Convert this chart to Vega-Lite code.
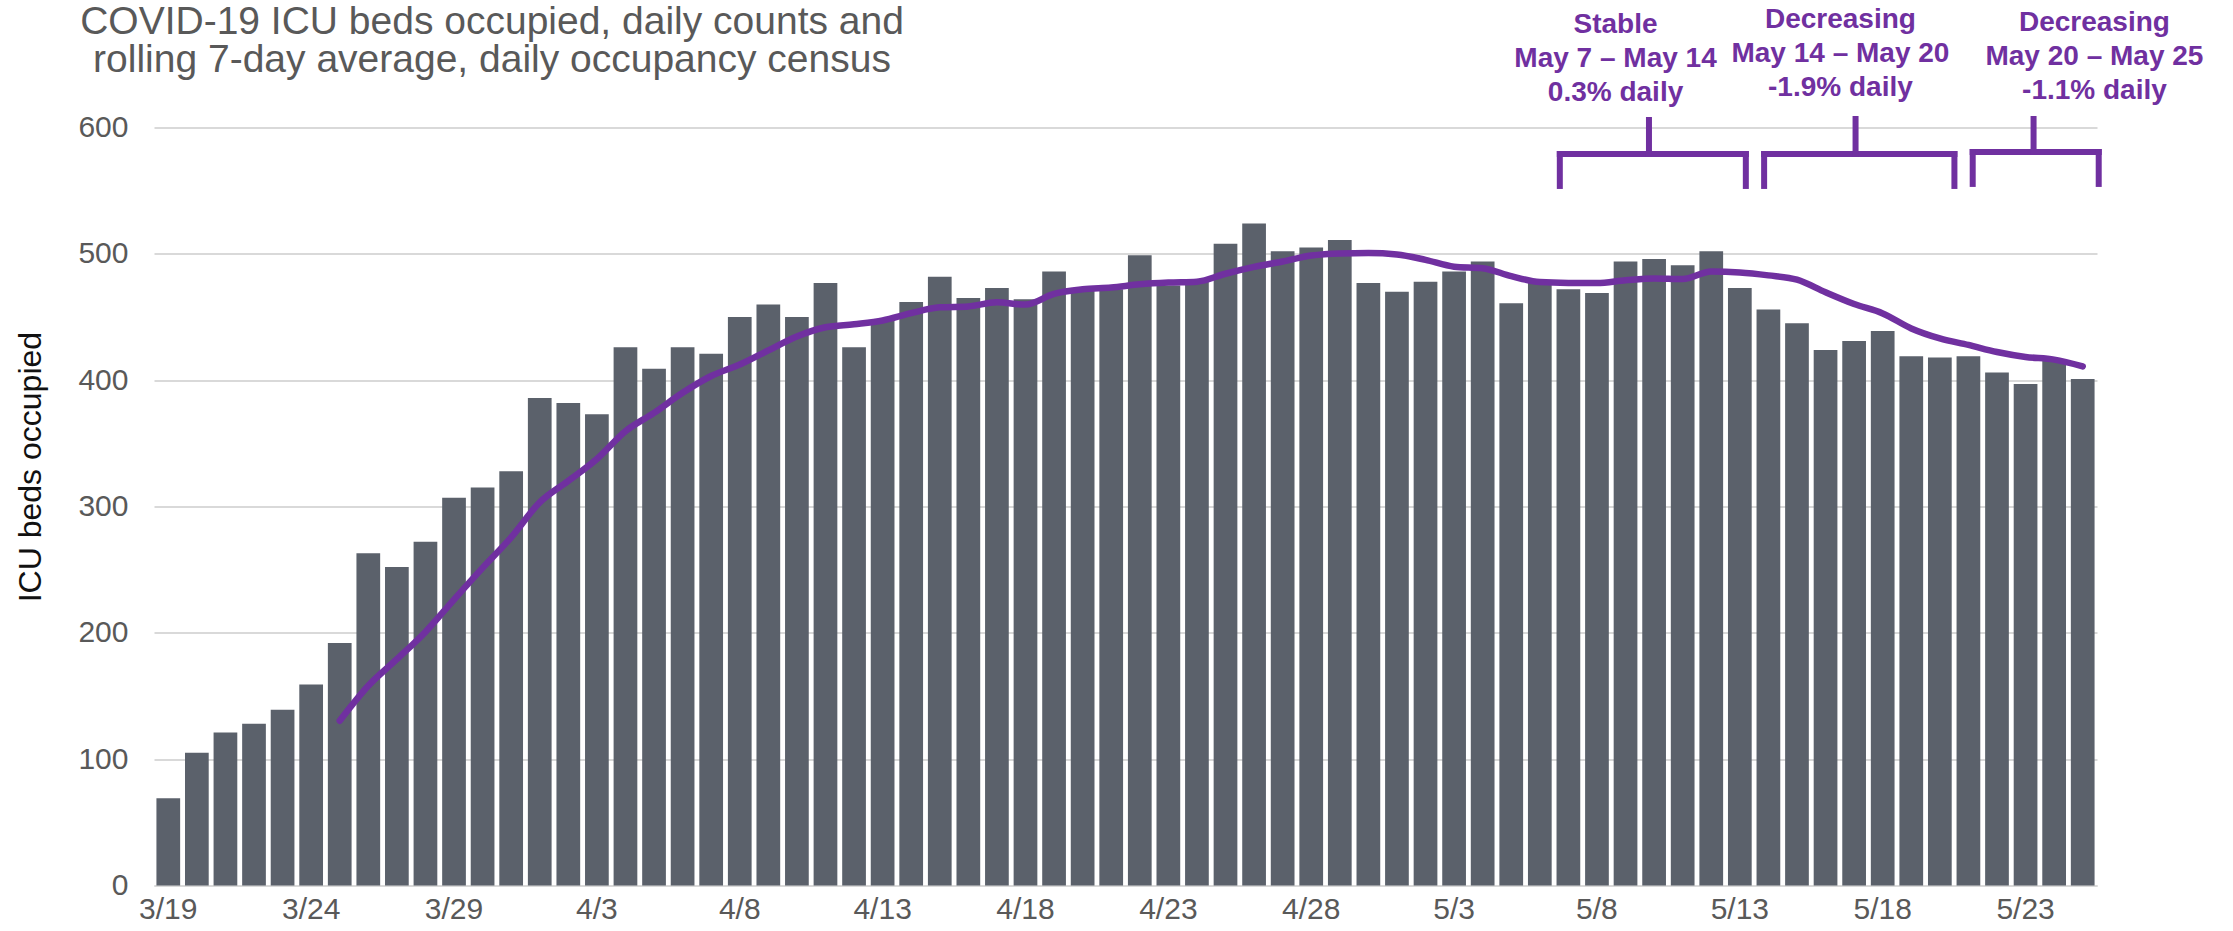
{
  "$schema": "https://vega.github.io/schema/vega-lite/v6.json",
  "width": 1943,
  "height": 757.8,
  "autosize": {"type": "none"},
  "padding": {"left": 154, "top": 127.6, "right": 136, "bottom": 45.6},
  "background": "white",
  "config": {
    "view": {"stroke": null},
    "font": "Liberation Sans",
    "axis": {"labelFont": "Liberation Sans", "titleFont": "Liberation Sans"}
  },
  "title": {
    "text": ["COVID-19 ICU beds occupied, daily counts and", "rolling 7-day average, daily occupancy census"],
    "font": "Liberation Sans",
    "fontSize": 39,
    "fontWeight": "normal",
    "color": "#595959",
    "lineHeight": 38.4,
    "anchor": "start",
    "align": "center",
    "frame": "group",
    "baseline": "alphabetic",
    "offset": 0,
    "dx": 338,
    "dy": 105
  },
  "datasets": {
    "daily": [
      {"date": "3/19", "beds": 69, "avg": null},
      {"date": "3/20", "beds": 105, "avg": null},
      {"date": "3/21", "beds": 121, "avg": null},
      {"date": "3/22", "beds": 128, "avg": null},
      {"date": "3/23", "beds": 139, "avg": null},
      {"date": "3/24", "beds": 159, "avg": null},
      {"date": "3/25", "beds": 192, "avg": 130.4},
      {"date": "3/26", "beds": 263, "avg": 158.1},
      {"date": "3/27", "beds": 252, "avg": 179.1},
      {"date": "3/28", "beds": 272, "avg": 200.7},
      {"date": "3/29", "beds": 307, "avg": 226.3},
      {"date": "3/30", "beds": 315, "avg": 251.4},
      {"date": "3/31", "beds": 328, "avg": 275.6},
      {"date": "4/1", "beds": 386, "avg": 303.3},
      {"date": "4/2", "beds": 382, "avg": 320.3},
      {"date": "4/3", "beds": 373, "avg": 337.6},
      {"date": "4/4", "beds": 426, "avg": 359.6},
      {"date": "4/5", "beds": 409, "avg": 374.1},
      {"date": "4/6", "beds": 426, "avg": 390.0},
      {"date": "4/7", "beds": 421, "avg": 403.3},
      {"date": "4/8", "beds": 450, "avg": 412.4},
      {"date": "4/9", "beds": 460, "avg": 423.6},
      {"date": "4/10", "beds": 450, "avg": 434.6},
      {"date": "4/11", "beds": 477, "avg": 441.9},
      {"date": "4/12", "beds": 426, "avg": 444.3},
      {"date": "4/13", "beds": 447, "avg": 447.3},
      {"date": "4/14", "beds": 462, "avg": 453.1},
      {"date": "4/15", "beds": 482, "avg": 457.7},
      {"date": "4/16", "beds": 465, "avg": 458.4},
      {"date": "4/17", "beds": 473, "avg": 461.7},
      {"date": "4/18", "beds": 464, "avg": 459.9},
      {"date": "4/19", "beds": 486, "avg": 468.4},
      {"date": "4/20", "beds": 472, "avg": 472.0},
      {"date": "4/21", "beds": 472, "avg": 473.4},
      {"date": "4/22", "beds": 499, "avg": 475.9},
      {"date": "4/23", "beds": 475, "avg": 477.3},
      {"date": "4/24", "beds": 478, "avg": 478.0},
      {"date": "4/25", "beds": 508, "avg": 484.3},
      {"date": "4/26", "beds": 524, "avg": 489.7},
      {"date": "4/27", "beds": 502, "avg": 494.0},
      {"date": "4/28", "beds": 505, "avg": 498.7},
      {"date": "4/29", "beds": 511, "avg": 500.4},
      {"date": "4/30", "beds": 477, "avg": 500.7},
      {"date": "5/1", "beds": 470, "avg": 499.6},
      {"date": "5/2", "beds": 478, "avg": 495.3},
      {"date": "5/3", "beds": 486, "avg": 489.9},
      {"date": "5/4", "beds": 494, "avg": 488.7},
      {"date": "5/5", "beds": 461, "avg": 482.4},
      {"date": "5/6", "beds": 478, "avg": 477.7},
      {"date": "5/7", "beds": 472, "avg": 477.0},
      {"date": "5/8", "beds": 469, "avg": 476.9},
      {"date": "5/9", "beds": 494, "avg": 479.1},
      {"date": "5/10", "beds": 496, "avg": 480.6},
      {"date": "5/11", "beds": 491, "avg": 480.1},
      {"date": "5/12", "beds": 502, "avg": 486.0},
      {"date": "5/13", "beds": 473, "avg": 485.3},
      {"date": "5/14", "beds": 456, "avg": 483.0},
      {"date": "5/15", "beds": 445, "avg": 479.6},
      {"date": "5/16", "beds": 424, "avg": 469.6},
      {"date": "5/17", "beds": 431, "avg": 460.3},
      {"date": "5/18", "beds": 439, "avg": 452.9},
      {"date": "5/19", "beds": 419, "avg": 441.0},
      {"date": "5/20", "beds": 418, "avg": 433.1},
      {"date": "5/21", "beds": 419, "avg": 427.9},
      {"date": "5/22", "beds": 406, "avg": 422.3},
      {"date": "5/23", "beds": 397, "avg": 418.4},
      {"date": "5/24", "beds": 416, "avg": 416.3},
      {"date": "5/25", "beds": 401, "avg": 410.9}
    ],
    "brackets": [
      {"x1": 49.2, "x2": 55.71, "xc": 52.32, "xt": 51.15, "ybar": 579.1, "ylow": 553.8, "ytop": 606.0, "ytext": 674.7, "label": "Stable\nMay 7 – May 14\n0.3% daily"},
      {"x1": 56.35, "x2": 63.01, "xc": 59.55, "xt": 59.02, "ybar": 579.1, "ylow": 553.8, "ytop": 606.8, "ytext": 678.6, "label": "Decreasing\nMay 14 – May 20\n-1.9% daily"},
      {"x1": 63.65, "x2": 68.06, "xc": 65.78, "xt": 67.91, "ybar": 580.7, "ylow": 555.4, "ytop": 606.8, "ytext": 676.7, "label": "Decreasing\nMay 20 – May 25\n-1.1% daily"}
    ]
  },
  "layer": [
    {
      "data": {"name": "daily"},
      "layer": [
        {
          "mark": {"type": "bar", "color": "#5b616b"},
          "encoding": {
            "x": {
              "field": "date", "type": "ordinal", "sort": null,
              "scale": {"paddingInner": 0.17, "paddingOuter": 0.085},
              "axis": {
                "title": null,
                "values": ["3/19", "3/24", "3/29", "4/3", "4/8", "4/13", "4/18", "4/23", "4/28", "5/3", "5/8", "5/13", "5/18", "5/23"],
                "labelAngle": 0,
                "labelFontSize": 30,
                "labelColor": "#595959",
                "labelPadding": 9,
                "ticks": false,
                "tickSize": 0,
                "grid": false,
                "domain": true,
                "domainColor": "#d9d9d9",
                "domainWidth": 2
              }
            },
            "y": {
              "field": "beds", "type": "quantitative",
              "title": "ICU beds occupied",
              "scale": {"domain": [0, 600], "nice": false},
              "axis": {
                "values": [0, 100, 200, 300, 400, 500, 600],
                "grid": true,
                "gridColor": "#d9d9d9",
                "gridWidth": 2,
                "domain": false,
                "ticks": false,
                "tickSize": 0,
                "labelFontSize": 30,
                "labelColor": "#595959",
                "labelPadding": 26,
                "titleFontSize": 32,
                "titleFontWeight": "normal",
                "titleColor": "#111111",
                "titleAngle": -90,
                "titleAlign": "center",
                "titleBaseline": "alphabetic",
                "titleX": -114,
                "titleY": 339
              }
            }
          }
        },
        {
          "mark": {"type": "line", "color": "#7030a0", "strokeWidth": 6.5, "interpolate": "monotone", "strokeCap": "round", "strokeJoin": "round"},
          "encoding": {
            "x": {"field": "date", "type": "ordinal", "sort": null},
            "y": {"field": "avg", "type": "quantitative", "title": "ICU beds occupied", "scale": {"domain": [0, 600], "nice": false}}
          }
        }
      ]
    },
    {
      "data": {"name": "brackets"},
      "layer": [
        {
          "mark": {"type": "rule", "color": "#7030a0", "strokeWidth": 6, "strokeCap": "square"},
          "encoding": {
            "x": {"field": "x1", "type": "quantitative", "scale": {"domain": [0, 68], "nice": false, "zero": false}, "axis": null},
            "x2": {"field": "x2"},
            "y": {"field": "ybar", "type": "quantitative", "title": "ICU beds occupied", "scale": {"domain": [0, 600], "nice": false}}
          }
        },
        {
          "mark": {"type": "rule", "color": "#7030a0", "strokeWidth": 6, "strokeCap": "square"},
          "encoding": {
            "x": {"field": "x1", "type": "quantitative", "scale": {"domain": [0, 68], "nice": false, "zero": false}, "axis": null},
            "y": {"field": "ylow", "type": "quantitative", "title": "ICU beds occupied", "scale": {"domain": [0, 600], "nice": false}},
            "y2": {"field": "ybar"}
          }
        },
        {
          "mark": {"type": "rule", "color": "#7030a0", "strokeWidth": 6, "strokeCap": "square"},
          "encoding": {
            "x": {"field": "x2", "type": "quantitative", "scale": {"domain": [0, 68], "nice": false, "zero": false}, "axis": null},
            "y": {"field": "ylow", "type": "quantitative", "title": "ICU beds occupied", "scale": {"domain": [0, 600], "nice": false}},
            "y2": {"field": "ybar"}
          }
        },
        {
          "mark": {"type": "rule", "color": "#7030a0", "strokeWidth": 6, "strokeCap": "square"},
          "encoding": {
            "x": {"field": "xc", "type": "quantitative", "scale": {"domain": [0, 68], "nice": false, "zero": false}, "axis": null},
            "y": {"field": "ybar", "type": "quantitative", "title": "ICU beds occupied", "scale": {"domain": [0, 600], "nice": false}},
            "y2": {"field": "ytop"}
          }
        },
        {
          "mark": {"type": "text", "font": "Liberation Sans", "fontWeight": "bold", "fontSize": 28, "color": "#7030a0", "align": "center", "baseline": "alphabetic", "lineBreak": "\n", "lineHeight": 34},
          "encoding": {
            "x": {"field": "xt", "type": "quantitative", "scale": {"domain": [0, 68], "nice": false, "zero": false}, "axis": null},
            "y": {"field": "ytext", "type": "quantitative", "title": "ICU beds occupied", "scale": {"domain": [0, 600], "nice": false}},
            "text": {"field": "label", "type": "nominal"}
          }
        }
      ]
    }
  ],
  "resolve": {"scale": {"x": "independent"}}
}
